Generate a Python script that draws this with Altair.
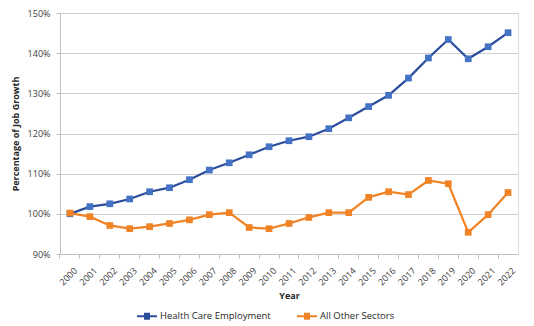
import altair as alt
import pandas as pd

years = [str(y) for y in range(2000, 2023)]
health = [100.0, 101.8, 102.5, 103.7, 105.5, 106.5, 108.5, 110.9, 112.7, 114.7,
          116.7, 118.2, 119.2, 121.2, 123.9, 126.7, 129.5, 133.8, 138.8, 143.4,
          138.6, 141.6, 145.1]
other = [100.2, 99.3, 97.1, 96.3, 96.8, 97.6, 98.5, 99.8, 100.3, 96.6,
         96.3, 97.6, 99.1, 100.3, 100.3, 104.1, 105.5, 104.8, 108.3, 107.5,
         95.4, 99.8, 105.3]
series = ["Health Care Employment", "All Other Sectors"]
y_ticks = [90, 100, 110, 120, 130, 140, 150]

rows = []
for i, yr in enumerate(years):
    rows.append({"Year": yr, "Series": series[0], "Value": health[i], "order": 0})
    rows.append({"Year": yr, "Series": series[1], "Value": other[i], "order": 1})
df = pd.DataFrame(rows)

FONT = "Open Sans"
line_colors = ["#2C4D9C", "#F08326"]
marker_colors = ["#4472C4", "#F08326"]

x_enc = alt.X(
    "Year:O",
    sort=years,
    scale=alt.Scale(type="band", paddingInner=0, paddingOuter=0),
    axis=alt.Axis(
        title="Year",
        labelAngle=-45,
        labelFont=FONT,
        labelFontSize=9,
        labelColor="#404040",
        titleFont=FONT,
        titleFontSize=9,
        titleFontWeight="bold",
        titleColor="#262626",
        titlePadding=5,
        domainColor="#BFBFBF",
        tickColor="#BFBFBF",
        tickSize=4,
        bandPosition=0,
        labelOffset=3,
        labelPadding=8,
        grid=False,
    ),
)
y_enc = alt.Y(
    "Value:Q",
    scale=alt.Scale(domain=[90, 150], nice=False, zero=False),
    axis=alt.Axis(
        title="Percentage of Job Growth",
        values=y_ticks,
        labelExpr="datum.value + '%'",
        labelFont=FONT,
        labelFontSize=9,
        labelColor="#404040",
        titleFont=FONT,
        titleFontSize=9,
        titleFontWeight="bold",
        titleColor="#262626",
        titlePadding=7,
        ticks=True,
        tickSize=4,
        tickColor="#BFBFBF",
        labelPadding=6,
        domainColor="#BFBFBF",
        gridColor="#D0D0D0",
        gridWidth=1,
    ),
)

legend_path = ("M-1,0H1 M-0.3,-0.25H0.3 M-0.3,-0.15H0.3 M-0.3,-0.05H0.3 "
               "M-0.3,0.05H0.3 M-0.3,0.15H0.3 M-0.3,0.25H0.3")

lines = alt.Chart(df).mark_line(strokeWidth=2.25).encode(
    x=x_enc,
    y=y_enc,
    stroke=alt.Stroke(
        "Series:N",
        scale=alt.Scale(domain=series, range=line_colors),
        legend=alt.Legend(
            title=None,
            orient="none",
            direction="horizontal",
            legendX=76,
            legendY=292,
            symbolType=legend_path,
            symbolSize=400,
            symbolStrokeWidth=2,
            labelFont=FONT,
            labelFontSize=9.5,
            labelColor="#262626",
            columnPadding=22,
            labelOffset=2,
        ),
    ),
    order="order:Q",
)

points = alt.Chart(df).mark_point(shape="square", filled=True, size=45, opacity=1).encode(
    x=alt.X("Year:O", sort=years),
    y=alt.Y("Value:Q"),
    fill=alt.Fill("Series:N", scale=alt.Scale(domain=series, range=marker_colors), legend=None),
)

chart = alt.layer(lines, points).properties(
    width=458,
    height=241,
    autosize=alt.AutoSizeParams(type="none"),
    padding={"left": 60, "top": 13, "right": 16, "bottom": 72},
).configure_view(stroke=None).configure(background="white")

chart.save("out.html", embed_options={"renderer": "svg", "actions": False})
